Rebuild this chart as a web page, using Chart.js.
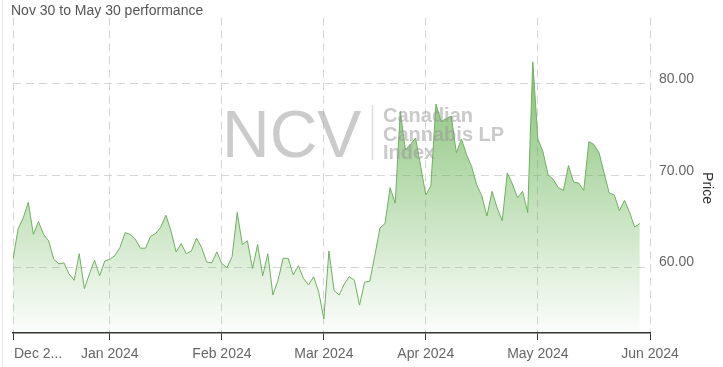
<!DOCTYPE html>
<html>
<head>
<meta charset="utf-8">
<script src="https://cdn.jsdelivr.net/npm/chart.js@4.4.1/dist/chart.umd.min.js"></script>
<style>
  html, body { margin: 0; padding: 0; background: #fff; }
  #wrap { position: relative; width: 723px; height: 367px; }
  #wrap:before { content: ''; position: absolute; left: 2px; top: 0; bottom: 0; border-left: 1px solid #e8e8e8; }
  canvas { display: block; }
</style>
</head>
<body>
<div id="wrap"><canvas id="chart" width="723" height="367"></canvas></div>
<script>
// trading days (TSX), Dec 1 2023 .. May 30 2024
var firstDay = '2023-12-01';
var lastDay = '2024-05-30';
var holidays = ['2023-12-25', '2023-12-26', '2024-01-01', '2024-02-19', '2024-03-29', '2024-05-20'];

// closing values, one per trading day
var prices = [
  60.9, 64.2, 65.4, 67.1, 63.6, 65.0, 63.6, 62.9, 60.9, 60.4,
  60.5, 59.3, 58.6, 61.5, 57.7, 59.3, 60.8, 59.1, 60.7, 60.9,
  61.3, 62.2, 63.8, 63.6, 63.1, 62.1, 62.1, 63.4, 63.7, 64.4,
  65.7, 64.0, 61.7, 62.6, 61.5, 61.8, 63.2, 62.2, 60.6, 60.5,
  61.7, 60.4, 60.0, 61.2, 66.0, 62.5, 62.9, 59.9, 62.5, 59.1,
  61.5, 57.0, 58.6, 61.0, 61.0, 59.2, 60.2, 58.8, 58.1, 59.0,
  57.3, 54.4, 61.8, 57.5, 57.0, 58.2, 59.0, 58.6, 55.9, 58.4,
  58.5, 61.3, 64.3, 64.8, 68.7, 67.0, 77.0, 72.8, 73.4, 74.1,
  71.0, 67.9, 68.9, 77.8, 75.9, 76.2, 76.5, 72.5, 74.0, 72.3,
  71.0, 69.0, 67.8, 65.6, 68.3, 66.5, 65.1, 70.3, 69.1, 67.6,
  68.3, 66.0, 82.4, 74.0, 72.6, 70.1, 69.6, 68.7, 68.4, 71.1,
  69.3, 69.2, 68.4, 73.7, 73.4, 72.5, 70.3, 68.1, 67.9, 66.2,
  67.3, 66.0, 64.4, 64.8
];

var monthStarts = ['2023-12-01', '2024-01-01', '2024-02-01', '2024-03-01', '2024-04-01', '2024-05-01', '2024-06-01'];
var monthLabels = ['Dec 2...', 'Jan 2024', 'Feb 2024', 'Mar 2024', 'Apr 2024', 'May 2024', 'Jun 2024'];
var priceTicks = [60, 70, 80];

var subtitle = 'Nov 30 to May 30 performance';
var axisTitle = 'Price';

var DAY = 86400000;
function toTime(s) { return Date.parse(s + 'T00:00:00Z'); }

// build the list of trading days
var dates = [];
for (var t = toTime(firstDay); t <= toTime(lastDay); t += DAY) {
  var d = new Date(t);
  var wd = d.getUTCDay();
  var iso = d.toISOString().slice(0, 10);
  if (wd === 0 || wd === 6 || holidays.indexOf(iso) >= 0) continue;
  dates.push(t);
}

// position of each month tick on the ordinal (trading day) axis
var tickPos = monthStarts.map(function (m) {
  var mt = toTime(m);
  for (var i = 0; i < dates.length; i++) {
    if (dates[i] >= mt) return i;
  }
  return dates.length - 1 + (mt - dates[dates.length - 1]) / DAY;
});

var points = prices.map(function (p, i) { return { x: i, y: p }; });

Chart.defaults.font.family = '"Liberation Sans", Arial, sans-serif';

var FONT = '"Liberation Sans", Arial, sans-serif';

var textPlugin = {
  id: 'texts',
  afterDatasetsDraw: function (chart) {
    var ctx = chart.ctx;
    ctx.save();
    // watermark
    ctx.fillStyle = 'rgba(160,160,160,0.55)';
    ctx.textAlign = 'left';
    ctx.textBaseline = 'alphabetic';
    ctx.font = '66px ' + FONT;
    ctx.fillText('NCV', 222, 157);
    ctx.strokeStyle = 'rgba(160,160,160,0.35)';
    ctx.lineWidth = 1.5;
    ctx.beginPath();
    ctx.moveTo(372.5, 105);
    ctx.lineTo(372.5, 160);
    ctx.stroke();
    ctx.fillStyle = 'rgba(150,150,150,0.5)';
    ctx.font = 'bold 20px ' + FONT;
    ctx.fillText('Canadian', 383, 122);
    ctx.fillText('Cannabis LP', 383, 140.5);
    ctx.fillText('Index', 383, 159);
    ctx.restore();
  },
  afterDraw: function (chart) {
    var ctx = chart.ctx;
    var xs = chart.scales.x;
    ctx.save();
    ctx.font = '14px ' + FONT;
    ctx.fillStyle = '#555';
    ctx.textAlign = 'left';
    ctx.textBaseline = 'alphabetic';
    ctx.fillText(subtitle, 11, 15);

    // month labels
    ctx.fillStyle = '#666';
    tickPos.forEach(function (v, i) {
      var px = xs.getPixelForValue(v);
      ctx.textAlign = i === 0 ? 'left' : 'center';
      ctx.fillText(monthLabels[i], i === 0 ? px + 1 : px, 358);
    });

    // right axis title
    ctx.fillStyle = '#333';
    ctx.translate(707, 188);
    ctx.rotate(Math.PI / 2);
    ctx.textAlign = 'center';
    ctx.textBaseline = 'middle';
    ctx.fillText(axisTitle, 0, 0);
    ctx.restore();
  }
};

var chart = new Chart(document.getElementById('chart'), {
  type: 'line',
  data: {
    datasets: [{
      data: points,
      borderColor: '#6fb061',
      borderWidth: 1,
      pointRadius: 0,
      tension: 0,
      fill: 'start',
      backgroundColor: function (context) {
        var c = context.chart;
        var area = c.chartArea;
        if (!area) return 'rgba(100,180,80,0.4)';
        var g = c.ctx.createLinearGradient(0, area.top, 0, area.bottom);
        g.addColorStop(0, 'rgba(95,175,75,0.9)');
        g.addColorStop(1, 'rgba(95,175,75,0.02)');
        return g;
      }
    }]
  },
  options: {
    responsive: false,
    animation: false,
    devicePixelRatio: 1,
    layout: { padding: { left: 13, top: 15, right: 0, bottom: 0 } },
    plugins: {
      legend: { display: false },
      tooltip: { enabled: false }
    },
    scales: {
      x: {
        type: 'linear',
        min: 0,
        max: tickPos[tickPos.length - 1],
        afterBuildTicks: function (s) {
          s.ticks = tickPos.map(function (v) { return { value: v }; });
        },
        afterFit: function (s) { s.height = 34; },
        ticks: { display: false, autoSkip: false },
        grid: {
          color: '#d6d6d6',
          drawTicks: true,
          tickLength: 7,
          tickColor: '#333',
          tickWidth: 1
        },
        border: { display: true, color: '#333', width: 1.5, dash: [8, 5] }
      },
      y: {
        type: 'linear',
        position: 'right',
        min: 52.865,
        max: 87.24,
        afterBuildTicks: function (s) {
          s.ticks = priceTicks.map(function (v) { return { value: v }; });
        },
        afterFit: function (s) { s.width = 73; },
        ticks: {
          color: '#666',
          font: { size: 14 },
          padding: 9,
          labelOffset: -5,
          callback: function (v) { return v.toFixed(2); }
        },
        grid: { color: '#d6d6d6', drawTicks: false },
        border: { display: false, dash: [8, 5] }
      }
    }
  },
  plugins: [textPlugin]
});
</script>
</body>
</html>
